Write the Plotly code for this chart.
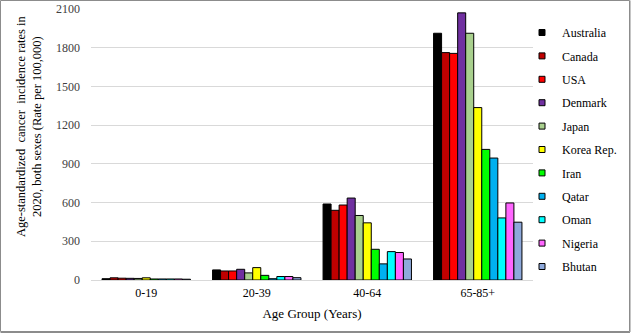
import plotly.graph_objects as go

age_groups = ["0-19", "20-39", "40-64", "65-85+"]
countries = ["Australia", "Canada", "USA", "Denmark", "Japan", "Korea Rep.",
             "Iran", "Qatar", "Oman", "Nigeria", "Bhutan"]
australia = [10, 78, 589, 1912]
canada = [17, 70, 540, 1762]
usa = [14, 70, 581, 1756]
denmark = [13, 83, 635, 2070]
japan = [12, 55, 500, 1912]
korea = [17, 96, 443, 1336]
iran = [8, 36, 238, 1012]
qatar = [8, 10, 125, 945]
oman = [8, 27, 220, 481]
nigeria = [8, 27, 213, 597]
bhutan = [6, 18, 163, 448]
series = [australia, canada, usa, denmark, japan, korea, iran, qatar, oman, nigeria, bhutan]
colors = ["#000000", "#C00000", "#FF0000", "#7030A0", "#A9D08E", "#FFFF00",
          "#00FF00", "#00B0F0", "#00FFFF", "#FF66FF", "#8EA9DB"]
y_ticks = [0, 300, 600, 900, 1200, 1500, 1800, 2100]

fig = go.Figure()
for name, vals, col in zip(countries, series, colors):
    fig.add_trace(go.Bar(
        x=age_groups, y=vals, name=name, legendgroup=name, showlegend=False,
        marker=dict(color=col, line=dict(color="#000000", width=1)),
    ))
# small square legend keys (legend only)
for name, col in zip(countries, colors):
    fig.add_trace(go.Scatter(
        x=[None], y=[None], mode="markers", name=name, legendgroup=name,
        marker=dict(symbol="square", size=6, color=col,
                    line=dict(color="#000000", width=1)),
    ))

W, H = 631, 334
ml, mr, mt, mb = 91, 98, 9, 54
pw = W - ml - mr
ph = H - mt - mb

def px_x(p):
    return (p - ml) / pw

def px_y(p):
    return (H - mb - p) / ph

shapes = [
    dict(type="rect", xref="paper", yref="paper",
         x0=px_x(0.5), x1=px_x(629.5), y0=px_y(331.5), y1=px_y(0.5),
         line=dict(color="#8C8C8C", width=1)),
    dict(type="line", xref="paper", yref="paper",
         x0=px_x(630), x1=px_x(630), y0=px_y(332), y1=px_y(0.5),
         line=dict(color="#8C8C8C", width=1)),
    dict(type="line", xref="paper", yref="paper",
         x0=px_x(0.5), x1=px_x(630), y0=px_y(332.5), y1=px_y(332.5),
         line=dict(color="#8C8C8C", width=1)),
]

annotations = [
    dict(text="Age-standardized  cancer  incidence rates in<br>2020, both sexes (Rate per 100,000)",
         xref="paper", yref="paper", x=px_x(29), y=px_y(127),
         xanchor="center", yanchor="middle", textangle=-90, showarrow=False,
         font=dict(size=12.5, color="#000000", family="Liberation Serif")),
]

fig.update_layout(
    width=W, height=H,
    margin=dict(l=ml, r=mr, t=mt, b=mb, autoexpand=False),
    paper_bgcolor="white", plot_bgcolor="white",
    font=dict(family="Liberation Serif", color="#404040", size=12),
    barmode="group", bargap=0.2, bargroupgap=0,
    showlegend=True,
    legend=dict(x=px_x(522), y=px_y(18), xanchor="left", yanchor="top",
                bgcolor="rgba(0,0,0,0)",
                font=dict(size=12, color="#000000"),
                tracegroupgap=4.4, itemwidth=30, traceorder="grouped"),
    xaxis=dict(showline=True, linecolor="#D9D9D9", linewidth=1, automargin=False,
               tickfont=dict(size=12, color="#000000"), ticks="", ticklabelstandoff=2,
               title=dict(text="Age Group (Years)", font=dict(size=13, color="#000000"),
                          standoff=9)),
    yaxis=dict(range=[0, 2100], tickvals=y_ticks, showgrid=True, automargin=False,
               gridcolor="#D9D9D9", gridwidth=1, zeroline=False, showline=False,
               ticks="", tickfont=dict(size=12, color="#404040"), ticklabelstandoff=10),
    shapes=shapes,
    annotations=annotations,
)

fig.write_html("out.html")
